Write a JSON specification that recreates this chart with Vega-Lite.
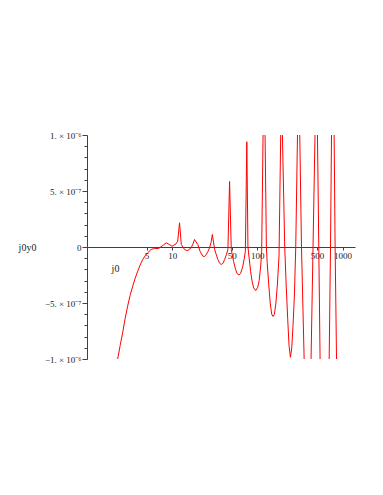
{
  "$schema": "https://vega.github.io/schema/vega-lite/v6.json",
  "width": 268,
  "height": 224,
  "autosize": "none",
  "padding": {"left": 87, "top": 135, "right": 28, "bottom": 136},
  "background": "white",
  "config": {"view": {"stroke": null}},
  "data": {"values": [
    {"x": 2.17, "y": -1.09e-6},
    {"x": 2.29, "y": -1.0e-6},
    {"x": 2.45, "y": -8.8e-7},
    {"x": 2.62, "y": -7.66e-7},
    {"x": 2.8, "y": -6.4e-7},
    {"x": 3.0, "y": -5.28e-7},
    {"x": 3.2, "y": -4.35e-7},
    {"x": 3.44, "y": -3.5e-7},
    {"x": 3.68, "y": -2.78e-7},
    {"x": 3.94, "y": -2.16e-7},
    {"x": 4.2, "y": -1.62e-7},
    {"x": 4.51, "y": -1.12e-7},
    {"x": 4.82, "y": -7.8e-8},
    {"x": 5.16, "y": -5.2e-8},
    {"x": 5.66, "y": -2.2e-8},
    {"x": 6.19, "y": -1.3e-8},
    {"x": 6.95, "y": -1.3e-8},
    {"x": 7.75, "y": 1.3e-8},
    {"x": 8.5, "y": 3.7e-8},
    {"x": 9.29, "y": 2.2e-8},
    {"x": 10.0, "y": 7e-9},
    {"x": 11.1, "y": 2.8e-8},
    {"x": 11.6, "y": 5.2e-8},
    {"x": 12.2, "y": 2.16e-7},
    {"x": 12.8, "y": 2.2e-8},
    {"x": 13.95, "y": -2.2e-8},
    {"x": 14.6, "y": -3.0e-8},
    {"x": 15.3, "y": -3.1e-8},
    {"x": 16.7, "y": -7e-9},
    {"x": 17.5, "y": 2.5e-8},
    {"x": 18.3, "y": 6.7e-8},
    {"x": 20.0, "y": 2.2e-8},
    {"x": 21.3, "y": -4.0e-8},
    {"x": 22.9, "y": -8.2e-8},
    {"x": 24.0, "y": -8.5e-8},
    {"x": 25.1, "y": -6.7e-8},
    {"x": 26.3, "y": -4.0e-8},
    {"x": 27.5, "y": -7e-9},
    {"x": 28.6, "y": 4.0e-8},
    {"x": 29.6, "y": 1.12e-7},
    {"x": 31.5, "y": -2.2e-8},
    {"x": 33.0, "y": -7.0e-8},
    {"x": 34.4, "y": -1.12e-7},
    {"x": 36.0, "y": -1.45e-7},
    {"x": 37.7, "y": -1.56e-7},
    {"x": 39.5, "y": -1.45e-7},
    {"x": 41.2, "y": -1.12e-7},
    {"x": 43.2, "y": -7.0e-8},
    {"x": 45.1, "y": -2.2e-8},
    {"x": 47.2, "y": 5.85e-7},
    {"x": 49.4, "y": -2.2e-8},
    {"x": 50.5, "y": -6.0e-8},
    {"x": 52.6, "y": -1.3e-7},
    {"x": 55.5, "y": -2.0e-7},
    {"x": 57.9, "y": -2.38e-7},
    {"x": 60.8, "y": -2.5e-7},
    {"x": 63.6, "y": -2.35e-7},
    {"x": 67.1, "y": -1.8e-7},
    {"x": 69.9, "y": -1.1e-7},
    {"x": 72.3, "y": -4.0e-8},
    {"x": 75.2, "y": 9.4e-7},
    {"x": 77.5, "y": 0},
    {"x": 80.1, "y": -1.0e-7},
    {"x": 83.4, "y": -2.2e-7},
    {"x": 86.9, "y": -3.1e-7},
    {"x": 90.5, "y": -3.65e-7},
    {"x": 95.5, "y": -3.9e-7},
    {"x": 100.8, "y": -3.6e-7},
    {"x": 105.0, "y": -3.0e-7},
    {"x": 109.4, "y": -1.7e-7},
    {"x": 112.3, "y": -4.0e-8},
    {"x": 119.9, "y": 1.74e-6},
    {"x": 127.6, "y": 0},
    {"x": 130.4, "y": -1.4e-7},
    {"x": 135.8, "y": -3.3e-7},
    {"x": 141.5, "y": -5.0e-7},
    {"x": 147.3, "y": -6.0e-7},
    {"x": 152.6, "y": -6.2e-7},
    {"x": 158.5, "y": -6.0e-7},
    {"x": 165.1, "y": -5.0e-7},
    {"x": 171.9, "y": -3.3e-7},
    {"x": 179.6, "y": -8e-8},
    {"x": 191.5, "y": 1.44e-6},
    {"x": 209.5, "y": 0},
    {"x": 218.2, "y": -3.5e-7},
    {"x": 227.3, "y": -6.5e-7},
    {"x": 235.4, "y": -8.8e-7},
    {"x": 244.5, "y": -9.85e-7},
    {"x": 253.2, "y": -9.0e-7},
    {"x": 262.3, "y": -7.0e-7},
    {"x": 272.4, "y": -4.2e-7},
    {"x": 282.2, "y": 0},
    {"x": 305, "y": 1.65e-6},
    {"x": 329.6, "y": 0},
    {"x": 394, "y": -2.5e-6},
    {"x": 494, "y": 1.74e-6},
    {"x": 526, "y": 0},
    {"x": 615, "y": -4.5e-6},
    {"x": 722, "y": 0},
    {"x": 769, "y": 2.3e-6},
    {"x": 818, "y": 0},
    {"x": 1000, "y": -5.3e-6}
  ]},
  "mark": {"type": "line", "color": "#ff0000", "strokeWidth": 1, "clip": true, "interpolate": "linear"},
  "encoding": {
    "x": {
      "field": "x", "type": "quantitative",
      "scale": {"type": "log", "domain": [1, 1400], "nice": false},
      "axis": {
        "orient": "bottom",
        "offset": -112,
        "values": [1, 5, 10, 50, 100, 500, 1000],
        "format": "d",
        "labelExpr": "datum.value == 1 ? '' : datum.label",
        "grid": false,
        "domainColor": "#404040",
        "tickColor": "#404040",
        "tickSize": 3,
        "labelPadding": 1,
        "labelFont": "Liberation Serif",
        "labelFontSize": 9,
        "labelColor": "#222222",
        "labelFlush": false,
        "labelOverlap": false,
        "title": "j0",
        "titleFont": "Liberation Serif",
        "titleFontSize": 10,
        "titleFontWeight": "normal",
        "titleColor": "#222222",
        "titleAlign": "center",
        "titleBaseline": "middle",
        "titleX": 28,
        "titleY": 21
      }
    },
    "y": {
      "field": "y", "type": "quantitative",
      "scale": {"domain": [-1e-6, 1e-6], "nice": false, "zero": false},
      "axis": {
        "orient": "left",
        "values": [-1e-6, -9e-7, -8e-7, -7e-7, -6e-7, -5e-7, -4e-7, -3e-7, -2e-7, -1e-7, 0, 1e-7, 2e-7, 3e-7, 4e-7, 5e-7, 6e-7, 7e-7, 8e-7, 9e-7, 1e-6],
        "labelExpr": "abs(datum.value-1e-6)<1e-10 ? '1. × 10⁻⁶' : abs(datum.value-5e-7)<1e-10 ? '5. × 10⁻⁷' : abs(datum.value)<1e-10 ? '0' : abs(datum.value+5e-7)<1e-10 ? '−5. × 10⁻⁷' : abs(datum.value+1e-6)<1e-10 ? '−1. × 10⁻⁶' : ''",
        "grid": false,
        "domainColor": "#404040",
        "tickColor": "#404040",
        "tickSize": {"condition": {"test": "abs(datum.value/5e-7 - round(datum.value/5e-7)) < 1e-6", "value": 5}, "value": 3},
        "labelPadding": 1,
        "labelFont": "Liberation Serif",
        "labelFontSize": 9,
        "labelColor": "#222222",
        "labelOverlap": false,
        "labelFlush": false,
        "title": "j0y0",
        "titleAngle": 0,
        "titleFont": "Liberation Serif",
        "titleFontSize": 10,
        "titleFontWeight": "normal",
        "titleColor": "#222222",
        "titleAlign": "center",
        "titleBaseline": "middle",
        "titleX": -60,
        "titleY": 112
      }
    }
  }
}
